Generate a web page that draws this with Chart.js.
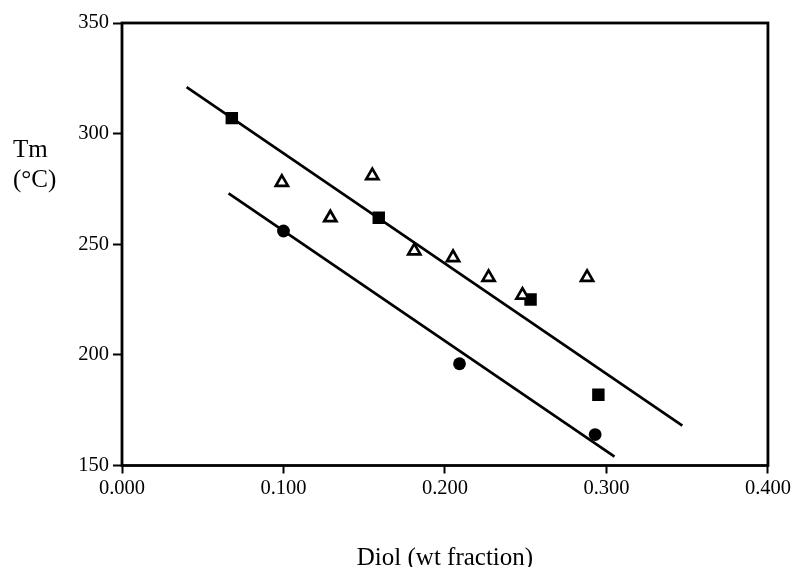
<!DOCTYPE html>
<html>
<head>
<meta charset="utf-8">
<script src="https://cdn.jsdelivr.net/npm/chart.js@4"></script>
<style>
  html, body { margin: 0; padding: 0; background: #fff; }
  canvas { display: block; }
</style>
</head>
<body>
<canvas id="c" width="794" height="567"></canvas>
<script>
// ---- data ----
const squareX   = [0.068, 0.159, 0.253, 0.295];
const squareY   = [307, 262, 225, 182];
const circleX   = [0.100, 0.209, 0.293];
const circleY   = [256, 196, 164];
const triangleX = [0.099, 0.129, 0.155, 0.181, 0.205, 0.227, 0.248, 0.288];
const triangleY = [278, 262, 281, 247, 244, 235, 227, 235];
const upperFitX = [0.040, 0.347];
const upperFitY = [321, 168];
const lowerFitX = [0.066, 0.305];
const lowerFitY = [273, 154];
const xTicks = [0.000, 0.100, 0.200, 0.300, 0.400];
const yTicks = [150, 200, 250, 300, 350];
const xTitle = 'Diol (wt fraction)';
const yTitleLines = ['Tm', '(°C)'];

const pts = (xs, ys) => xs.map((x, i) => ({ x: x, y: ys[i] }));
const FONT = "'Liberation Serif', 'Times New Roman', serif";

const framePlugin = {
  id: 'frame',
  beforeDatasetsDraw(chart) {
    const { ctx, chartArea: a } = chart;
    ctx.save();
    ctx.strokeStyle = '#000';
    ctx.lineWidth = 2.8;
    ctx.strokeRect(a.left, a.top, a.right - a.left, a.bottom - a.top);
    ctx.restore();
  },
  afterDraw(chart) {
    const { ctx, chartArea: a } = chart;
    ctx.save();
    ctx.fillStyle = '#000';
    ctx.font = '25px ' + FONT;
    ctx.textAlign = 'center';
    ctx.textBaseline = 'alphabetic';
    ctx.fillText(xTitle, (a.left + a.right) / 2, 565);
    ctx.textAlign = 'left';
    ctx.fillText(yTitleLines[0], 13, 157);
    ctx.fillText(yTitleLines[1], 13, 187);
    ctx.restore();
  }
};

new Chart(document.getElementById('c'), {
  type: 'scatter',
  data: {
    datasets: [
      { label: 'upper fit', data: pts(upperFitX, upperFitY), showLine: true,
        borderColor: '#000', borderWidth: 2.7, pointRadius: 0, fill: false },
      { label: 'lower fit', data: pts(lowerFitX, lowerFitY), showLine: true,
        borderColor: '#000', borderWidth: 2.7, pointRadius: 0, fill: false },
      { label: 'triangles', data: pts(triangleX, triangleY), pointStyle: 'triangle',
        pointRadius: 7, backgroundColor: '#fff', borderColor: '#000', borderWidth: 2.7 },
      { label: 'squares', data: pts(squareX, squareY), pointStyle: 'rect',
        pointRadius: 8.8, backgroundColor: '#000', borderColor: '#000', borderWidth: 0 },
      { label: 'circles', data: pts(circleX, circleY), pointStyle: 'circle',
        pointRadius: 6.4, backgroundColor: '#000', borderColor: '#000', borderWidth: 0 }
    ]
  },
  options: {
    responsive: false,
    animation: false,
    events: [],
    layout: { padding: { top: 23, right: 25, left: 0, bottom: 0 } },
    plugins: { legend: { display: false }, tooltip: { enabled: false } },
    scales: {
      x: {
        type: 'linear', min: 0, max: 0.4,
        afterFit(s) { s.height = 101.5; },
        afterBuildTicks(s) { s.ticks = xTicks.map(v => ({ value: v })); },
        grid: { drawOnChartArea: false, drawTicks: true, tickLength: 8, tickWidth: 2, tickColor: '#000' },
        border: { display: false },
        ticks: {
          color: '#000', padding: 3, maxRotation: 0,
          font: { family: FONT, size: 20.5 },
          callback: v => Number(v).toFixed(3)
        }
      },
      y: {
        type: 'linear', min: 150, max: 350,
        afterFit(s) { s.width = 122; },
        afterBuildTicks(s) { s.ticks = yTicks.map(v => ({ value: v })); },
        grid: { drawOnChartArea: false, drawTicks: true, tickLength: 9, tickWidth: 2, tickColor: '#000' },
        border: { display: false },
        ticks: {
          color: '#000', padding: 4,
          font: { family: FONT, size: 20.5 },
          callback: v => String(v)
        }
      }
    }
  },
  plugins: [framePlugin]
});
</script>
</body>
</html>
